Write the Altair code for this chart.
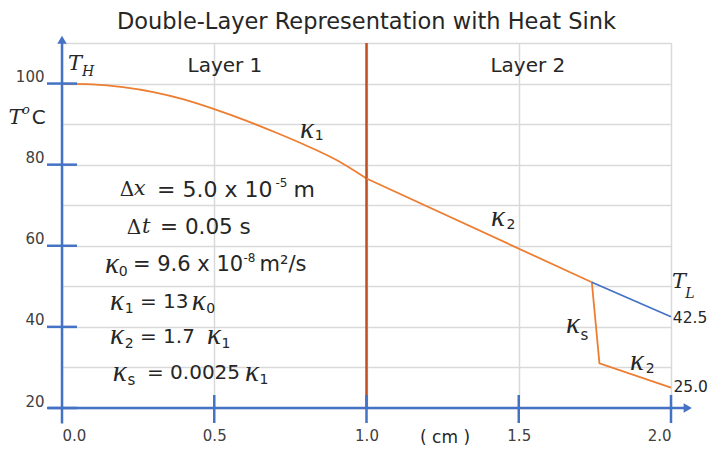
import altair as alt
import pandas as pd

# ---- data -------------------------------------------------------------
layer1_x = [0.0, 0.1, 0.2, 0.3, 0.4, 0.5, 0.6, 0.7, 0.8, 0.9, 1.0]
layer1_t = [100.0, 99.8, 99.1, 97.9, 96.1, 93.7, 91.0, 88.0, 84.8, 81.2, 76.6]
layer2_x = [1.0, 1.74, 1.765, 2.0]          # with heat sink
layer2_t = [76.6, 51.0, 31.0, 25.0]
noSink_x = [1.74, 2.0]
noSink_t = [51.0, 42.5]

x_ticks = [0.0, 0.5, 1.0, 1.5, 2.0]
y_grid = [20, 30, 40, 50, 60, 70, 80, 90, 100, 110]
y_ticks = [20, 40, 60, 80, 100]

BLUE = "#4472C4"
ORANGE = "#ED7D31"
RED = "#C0501F"
GRID = "#D9D9D9"
TXT = "#262626"
SANS = "DejaVu Sans"
SERIF = "DejaVu Serif"
KFONT = "Liberation Serif"

l1_df = pd.DataFrame({"x": layer1_x, "t": layer1_t})
l2_df = pd.DataFrame({"x": layer2_x, "t": layer2_t, "o": list(range(len(layer2_x)))})
blue_df = pd.DataFrame({"x": noSink_x, "t": noSink_t})

xs = alt.Scale(domain=[0, 2], nice=False, zero=False)
ys = alt.Scale(domain=[20, 110], nice=False, zero=False)

# annotation pieces: text, x, y, size
sans_left = pd.DataFrame([
    ["= 5.0 x 10", 0.312, 73.75, 22], ["-5", 0.701, 75.6, 12], ["m", 0.760, 73.75, 22],
    ["= 0.05 s", 0.322, 64.4, 21.5],
    ["0", 0.186, 53.6, 14], ["= 9.6 x 10", 0.233, 55.2, 21], ["-8", 0.596, 57.0, 12], ["m²/s", 0.649, 55.2, 21],
    ["1", 0.206, 44.5, 14], ["= 13", 0.256, 46.1, 20], ["0", 0.474, 44.5, 14],
    ["2", 0.206, 35.9, 14], ["= 1.7", 0.256, 37.5, 20], ["1", 0.524, 35.9, 14],
    ["s", 0.215, 27.0, 15], ["= 0.0025", 0.279, 28.6, 20], ["1", 0.649, 27.0, 14],
    ["1", 0.830, 87.0, 14], ["2", 1.460, 65.2, 14], ["s", 1.703, 38.1, 15], ["2", 1.917, 29.7, 14],
    ["42.5", 2.006, 42.1, 15.5], ["25.0", 2.008, 25.1, 15.5],
    ["C", -0.099, 91.5, 20],
], columns=["text", "x", "y", "size"])

sans_center = pd.DataFrame([
    ["Layer 1", 0.535, 104.4, 20], ["Layer 2", 1.530, 104.4, 20], ["( cm )", 1.258, 12.6, 17],
], columns=["text", "x", "y", "size"])

serif_italic = pd.DataFrame([
    ["x", 0.236, 73.9, 21], ["t", 0.263, 64.6, 21],
    ["T", 0.020, 104.9, 21], ["H", 0.066, 102.8, 14],
    ["T", 2.003, 51.0, 21], ["L", 2.047, 48.0, 14],
    ["T", -0.176, 91.5, 21], ["o", -0.131, 93.4, 13],
], columns=["text", "x", "y", "size"])

kappa = pd.DataFrame([
    ["κ", 0.141, 55.6, 29], ["κ", 0.158, 46.5, 29], ["κ", 0.426, 46.5, 29],
    ["κ", 0.158, 37.9, 29], ["κ", 0.476, 37.9, 29], ["κ", 0.167, 29.0, 29], ["κ", 0.601, 29.0, 29],
    ["κ", 0.782, 88.9, 29], ["κ", 1.409, 67.2, 29], ["κ", 1.655, 40.6, 29], ["κ", 1.865, 31.7, 29],
], columns=["text", "x", "y", "size"])

serif_upright = pd.DataFrame([
    ["Δ", 0.190, 73.75, 20], ["Δ", 0.213, 64.4, 20],
], columns=["text", "x", "y", "size"])

# ---- layers -----------------------------------------------------------
base = alt.Chart(l1_df).encode(
    x=alt.X("x:Q", scale=xs, axis=alt.Axis(
        values=x_ticks, format=".1f", grid=True, gridColor=GRID, gridWidth=1.5,
        domain=False, ticks=False, labelFontSize=15, labelColor="#404040",
        labelFont=SANS, labelPadding=20, title=None)),
    y=alt.Y("t:Q", scale=ys, axis=alt.Axis(
        values=y_grid, grid=True, gridColor=GRID, gridWidth=1.5, domain=False, ticks=False,
        labelExpr="datum.value % 20 == 0 && datum.value <= 100 ? datum.label : ''",
        labelFontSize=15, labelColor="#404040", labelFont=SANS, labelPadding=18,
        labelOffset=-7, title=None)),
)

l1_line = base.mark_line(color=ORANGE, strokeWidth=1.8, interpolate="monotone")

l2_line = alt.Chart(l2_df).mark_line(color=ORANGE, strokeWidth=1.8).encode(
    x=alt.X("x:Q", scale=xs), y=alt.Y("t:Q", scale=ys), order="o:Q")

blue_line = alt.Chart(blue_df).mark_line(color=BLUE, strokeWidth=1.8).encode(
    x=alt.X("x:Q", scale=xs), y=alt.Y("t:Q", scale=ys))

red_df = pd.DataFrame({"x": [1.0], "y": [20], "y2": [110]})
red_rule = alt.Chart(red_df).mark_rule(color=RED, strokeWidth=2.5).encode(
    x=alt.X("x:Q", scale=xs), y=alt.Y("y:Q", scale=ys), y2="y2:Q")

xaxis_df = pd.DataFrame({"x": [-0.046], "x2": [2.06], "y": [20]})
xaxis = alt.Chart(xaxis_df).mark_rule(color=BLUE, strokeWidth=2.5).encode(
    x=alt.X("x:Q", scale=xs), x2="x2:Q", y=alt.Y("y:Q", scale=ys))
yaxis_df = pd.DataFrame({"x": [0.0], "y": [16.2], "y2": [110.5]})
yaxis = alt.Chart(yaxis_df).mark_rule(color=BLUE, strokeWidth=2.5).encode(
    x=alt.X("x:Q", scale=xs), y=alt.Y("y:Q", scale=ys), y2="y2:Q")

arrow_r = alt.Chart(pd.DataFrame({"x": [2.055], "y": [20]})).mark_point(
    shape="triangle-right", filled=True, color=BLUE, size=90, opacity=1).encode(
    x=alt.X("x:Q", scale=xs), y=alt.Y("y:Q", scale=ys))
arrow_u = alt.Chart(pd.DataFrame({"x": [0.0], "y": [110.8]})).mark_point(
    shape="triangle-up", filled=True, color=BLUE, size=90, opacity=1).encode(
    x=alt.X("x:Q", scale=xs), y=alt.Y("y:Q", scale=ys))

xt = alt.Chart(pd.DataFrame({"x": [0.5, 1.0, 1.5, 2.0], "y": [20] * 4})).mark_tick(
    orient="vertical", color=BLUE, size=28, thickness=2.5, opacity=1, yOffset=1).encode(
    x=alt.X("x:Q", scale=xs), y=alt.Y("y:Q", scale=ys))
yt = alt.Chart(pd.DataFrame({"x": [0.0] * len(y_ticks), "y": y_ticks})).mark_tick(
    orient="horizontal", color=BLUE, size=30, thickness=2.5, opacity=1).encode(
    x=alt.X("x:Q", scale=xs), y=alt.Y("y:Q", scale=ys))


def texts(df, font, style, align):
    return alt.Chart(df).mark_text(
        font=font, fontStyle=style, align=align, baseline="middle", color=TXT).encode(
        x=alt.X("x:Q", scale=xs), y=alt.Y("y:Q", scale=ys),
        text="text:N", size=alt.Size("size:Q", scale=None, legend=None))


chart = alt.layer(
    l1_line, red_rule, l2_line, blue_line,
    xaxis, yaxis, arrow_r, arrow_u, xt, yt,
    texts(sans_left, SANS, "normal", "left"),
    texts(sans_center, SANS, "normal", "center"),
    texts(serif_italic, SERIF, "italic", "left"),
    texts(kappa, KFONT, "italic", "left"),
    texts(serif_upright, SERIF, "normal", "left"),
).properties(
    width=609, height=365,
    title=alt.TitleParams("Double-Layer Representation with Heat Sink",
                          font=SANS, fontSize=22.5, fontWeight="normal", color=TXT,
                          anchor="middle", offset=6, dy=4),
    autosize=alt.AutoSizeParams(type="none"),
    padding={"left": 54, "top": 35, "right": 38, "bottom": 38},
).configure_view(stroke=None).configure(background="white")

chart.save("out.html", embed_options={"renderer": "svg", "actions": False})
